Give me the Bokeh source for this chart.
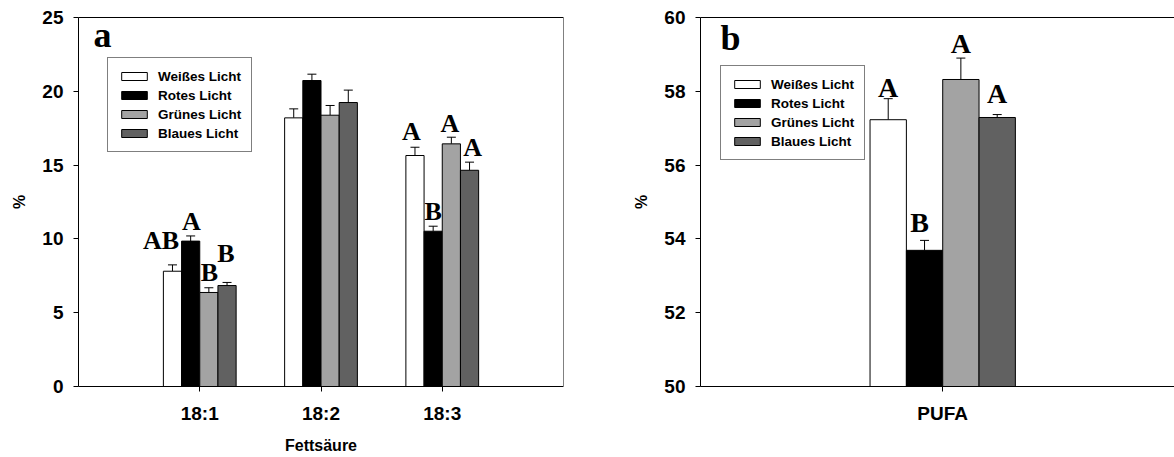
from bokeh.plotting import figure
from bokeh.models import (FixedTicker, LinearAxis, Legend, LegendItem, ColumnDataSource,
                          Whisker, TeeHead, Label, Range1d)
from bokeh.layouts import row
from bokeh.embed import file_html
from bokeh.resources import INLINE
from bokeh.core.properties import value

# ---------------- data ----------------
fatty_acids = ["18:1", "18:2", "18:3"]
series = ["Weißes Licht", "Rotes Licht", "Grünes Licht", "Blaues Licht"]

a_weiss = [7.81, 18.20, 15.65]
a_rot = [9.85, 20.73, 10.52]
a_gruen = [6.37, 18.38, 16.44]
a_blau = [6.84, 19.24, 14.65]
a_weiss_se = [0.43, 0.61, 0.56]
a_rot_se = [0.35, 0.43, 0.34]
a_gruen_se = [0.32, 0.66, 0.45]
a_blau_se = [0.21, 0.84, 0.55]
a_letters_weiss = ["AB", "", "A"]
a_letters_rot = ["A", "", "B"]
a_letters_gruen = ["B", "", "A"]
a_letters_blau = ["B", "", "A"]

b_category = ["PUFA"]
b_weiss = [57.23]
b_rot = [53.69]
b_gruen = [58.32]
b_blau = [57.29]
b_weiss_se = [0.57]
b_rot_se = [0.27]
b_gruen_se = [0.58]
b_blau_se = [0.08]
b_letters_weiss = ["A"]
b_letters_rot = ["B"]
b_letters_gruen = ["A"]
b_letters_blau = ["A"]

y_ticks_a = [0, 5, 10, 15, 20, 25]
y_ticks_b = [50, 52, 54, 56, 58, 60]

# ---------------- styles / layout ----------------
colors = ["#ffffff", "#000000", "#a3a3a3", "#616161"]
offsets = [-0.225, -0.075, 0.075, 0.225]
bar_w = 0.15
SANS = "Liberation Sans"
SERIF = "Liberation Serif"
LIFT = 9.5  # baseline correction in px

# letter nudges in pixels (dx, dy-up) per series per category
a_nudge = [
    [(-11.5, 14.4), (0, 0), (-3.7, 6.7)],
    [(0.7, 4.7), (0, 0), (0, 5)],
    [(0.5, 5.6), (0, 0), (-1.4, 4.7)],
    [(-1, 19), (0, 0), (3, 5)],
]
b_nudge = [[(0, 1.6)], [(-5, 8.3)], [(0, 5)], [(0, 11.6)]]


def style_axes(p, yticks, xticks, xlabels, xtitle):
    p.xgrid.visible = False
    p.ygrid.visible = False
    p.outline_line_color = None
    for ax in (p.xaxis[0], p.yaxis[0]):
        ax.axis_line_color = "black"
        ax.axis_line_width = 1
        ax.major_tick_line_color = "black"
        ax.major_tick_out = 5
        ax.major_tick_in = 0
        ax.minor_tick_line_color = None
        ax.major_label_text_font = SANS
        ax.major_label_text_font_style = "bold"
        ax.major_label_text_font_size = "19px"
        ax.major_label_text_color = "black"
        ax.axis_label_text_font = SANS
        ax.axis_label_text_font_style = "bold"
        ax.axis_label_text_color = "black"
    p.yaxis[0].ticker = FixedTicker(ticks=yticks)
    p.yaxis[0].major_label_standoff = 10
    p.yaxis[0].axis_label = "%"
    p.yaxis[0].axis_label_text_font_size = "16px"
    p.yaxis[0].axis_label_standoff = 11
    p.xaxis[0].ticker = FixedTicker(ticks=xticks)
    p.xaxis[0].major_label_overrides = {t: l for t, l in zip(xticks, xlabels)}
    p.xaxis[0].major_label_standoff = 11
    if xtitle:
        p.xaxis[0].axis_label = xtitle
        p.xaxis[0].axis_label_text_font_size = "16px"
        p.xaxis[0].axis_label_standoff = 10


def border_axis(p, side, color):
    ax = LinearAxis(ticker=FixedTicker(ticks=[]), axis_line_color=color,
                    major_tick_line_color=None, minor_tick_line_color=None,
                    major_tick_out=0, major_label_standoff=0)
    p.add_layout(ax, side)


def draw_panel(p, cats, vals, ses, letters, nudges, base, fsize, leg_loc):
    renderers = []
    for i in range(4):
        xs = [c + offsets[i] for c in cats]
        src = ColumnDataSource(dict(
            x=xs, top=vals[i], upper=[v + s for v, s in zip(vals[i], ses[i])],
            text=letters[i],
            dx=[n[0] for n in nudges[i]], dy=[-(n[1] + LIFT) for n in nudges[i]],
        ))
        r = p.vbar(x="x", top="top", bottom=base, width=bar_w, source=src,
                   fill_color=colors[i], line_color="black", line_width=1)
        renderers.append(r)
        w = Whisker(source=src, base="x", lower="top", upper="upper",
                    lower_head=None,
                    upper_head=TeeHead(size=9, line_color="black", line_width=1),
                    line_color="black", line_width=1)
        p.add_layout(w)
        p.text(x="x", y="upper", text="text", x_offset="dx", y_offset="dy", source=src,
               text_font=value(SERIF), text_font_style=value("bold"),
               text_font_size=value(fsize), text_align="center",
               text_baseline="alphabetic", text_color="black")
    legend = Legend(items=[LegendItem(label=s, renderers=[r]) for s, r in zip(series, renderers)],
                    location=leg_loc)
    legend.border_line_color = "black"
    legend.border_line_width = 1
    legend.background_fill_color = "white"
    legend.background_fill_alpha = 1
    legend.glyph_width = 32
    legend.glyph_height = 10
    legend.label_height = 16
    legend.label_standoff = 8
    legend.padding = 10
    legend.spacing = 3
    legend.margin = 0
    legend.label_text_font = SANS
    legend.label_text_font_style = "bold"
    legend.label_text_font_size = "13.5px"
    legend.label_text_color = "black"
    p.add_layout(legend)


# ---------------- panel a ----------------
cats_a = [1, 2, 3]
pa = figure(width=622, height=457, x_range=Range1d(0, 4), y_range=Range1d(0, 25),
            output_backend="svg", toolbar_location=None,
            min_border_left=78, min_border_right=59, min_border_top=17, min_border_bottom=71)
style_axes(pa, y_ticks_a, cats_a, fatty_acids, "Fettsäure")
border_axis(pa, "above", "black")
border_axis(pa, "right", "#808080")
draw_panel(pa, cats_a,
           [a_weiss, a_rot, a_gruen, a_blau],
           [a_weiss_se, a_rot_se, a_gruen_se, a_blau_se],
           [a_letters_weiss, a_letters_rot, a_letters_gruen, a_letters_blau],
           a_nudge, 0, "26px", (29, 234))
pa.add_layout(Label(x=0.124, y=23.08, y_offset=11, text="a", text_font=SERIF,
                    text_font_style="bold", text_font_size="36px", text_align="left",
                    text_baseline="alphabetic", text_color="black"))

# ---------------- panel b ----------------
cats_b = [1]
pb = figure(width=552, height=457, x_range=Range1d(0, 1.957), y_range=Range1d(50, 60),
            output_backend="svg", toolbar_location=None,
            min_border_left=78, min_border_right=0, min_border_top=17, min_border_bottom=71)
style_axes(pb, y_ticks_b, cats_b, b_category, None)
border_axis(pb, "above", "black")
draw_panel(pb, cats_b,
           [b_weiss, b_rot, b_gruen, b_blau],
           [b_weiss_se, b_rot_se, b_gruen_se, b_blau_se],
           [b_letters_weiss, b_letters_rot, b_letters_gruen, b_letters_blau],
           b_nudge, 50, "28px", (20, 226))
pb.add_layout(Label(x=0.0826, y=59.09, y_offset=13, text="b", text_font=SERIF,
                    text_font_style="bold", text_font_size="36px", text_align="left",
                    text_baseline="alphabetic", text_color="black"))

layout = row(pa, pb)
open("out.html", "w").write(file_html(layout, INLINE))
